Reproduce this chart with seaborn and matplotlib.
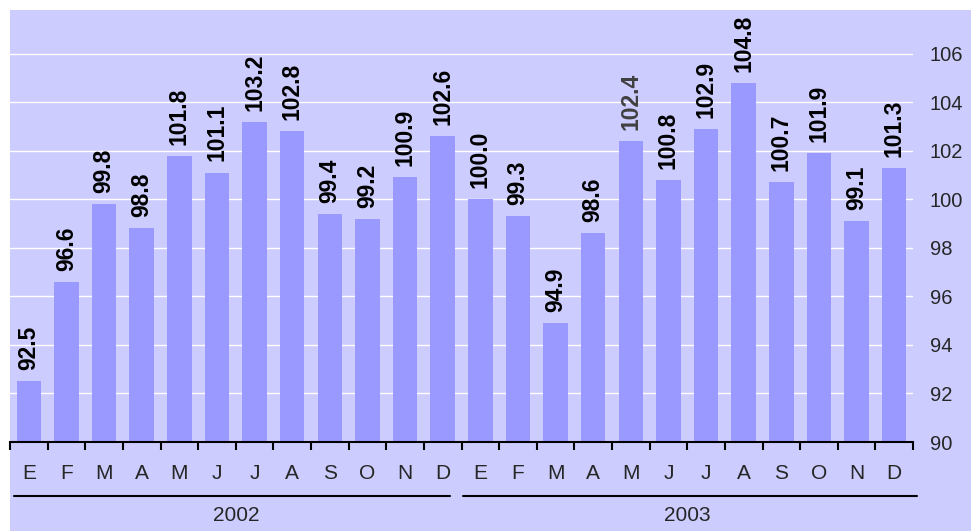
import numpy as np
import pandas as pd
import matplotlib
matplotlib.use("Agg")
import matplotlib.pyplot as plt
from matplotlib.patches import Rectangle
import seaborn as sns

# données
mois = ["E", "F", "M", "A", "M", "J", "J", "A", "S", "O", "N", "D"]
annees = ["2002", "2003"]
val_2002 = [92.5, 96.6, 99.8, 98.8, 101.8, 101.1, 103.2, 102.8, 99.4, 99.2, 100.9, 102.6]
val_2003 = [100.0, 99.3, 94.9, 98.6, 102.4, 100.8, 102.9, 104.8, 100.7, 101.9, 99.1, 101.3]
y_ticks = [90, 92, 94, 96, 98, 100, 102, 104, 106]

df = pd.DataFrame({
    "pos": list(range(24)),
    "mois": mois + mois,
    "annee": [annees[0]] * 12 + [annees[1]] * 12,
    "valeur": val_2002 + val_2003,
})

sns.set_style("white")
plt.rcParams["font.family"] = ["Liberation Sans", "DejaVu Sans"]

fond = "#CCCCFF"
barre = "#9999FF"

W, H = 971, 531
fig = plt.figure(figsize=(W / 100, H / 100), dpi=100)
fig.patch.set_facecolor("white")
fig.patches.append(Rectangle((10 / W, 0), 1, 1 - 10 / H, transform=fig.transFigure,
                             facecolor=fond, edgecolor="none", zorder=-10))

ax = fig.add_axes([10 / W, 1 - 442 / H, (913 - 10) / W, (442 - 10) / H])
ax.set_facecolor(fond)

sns.barplot(data=df, x="pos", y="valeur", color=barre, width=0.65,
            saturation=1, linewidth=0, edgecolor="none", ax=ax, zorder=3)

ax.set_ylim(90, 107.8)
ax.set_xlim(-0.5, 23.5)
ax.set_yticks(y_ticks)
ax.yaxis.tick_right()
ax.tick_params(axis="y", length=0, labelsize=14.5, pad=12)
ax.grid(axis="y", color="white", linewidth=1.0, zorder=0)
ax.set_axisbelow(True)
for s in ["left", "right", "top"]:
    ax.spines[s].set_visible(False)
ax.spines["bottom"].set_color("black")
ax.spines["bottom"].set_linewidth(1.5)
ax.spines["bottom"].set_zorder(6)
ax.set_xlabel("")
ax.set_ylabel("")

# ticks entre les mois
ax.set_xticks(np.arange(-0.5, 24, 1))
ax.set_xticklabels([])
ax.tick_params(axis="x", bottom=True, length=6, width=1.5, color="black", direction="out")

tr = ax.get_xaxis_transform()
for i, row in df.iterrows():
    ax.text(row["pos"], -0.074, row["mois"], transform=tr, ha="center", va="center",
            fontsize=15, clip_on=False)
    couleur = "#404040" if i == 16 else "black"
    ax.annotate(f"{row['valeur']:.1f}", (row["pos"], row["valeur"]),
                xytext=(0, 8), textcoords="offset points", rotation=90,
                ha="center", va="bottom", fontsize=16.5, fontweight="bold",
                color=couleur, zorder=5)

# lignes et années
ax.plot([-0.39, 11.19], [-0.125, -0.125], transform=tr, color="black", lw=1.5, clip_on=False)
ax.plot([11.54, 23.6], [-0.125, -0.125], transform=tr, color="black", lw=1.5, clip_on=False)
ax.text(5.5, -0.171, annees[0], transform=tr, ha="center", va="center", fontsize=15)
ax.text(17.5, -0.171, annees[1], transform=tr, ha="center", va="center", fontsize=15)

fig.savefig("out.png", dpi=100, facecolor=fig.get_facecolor())
